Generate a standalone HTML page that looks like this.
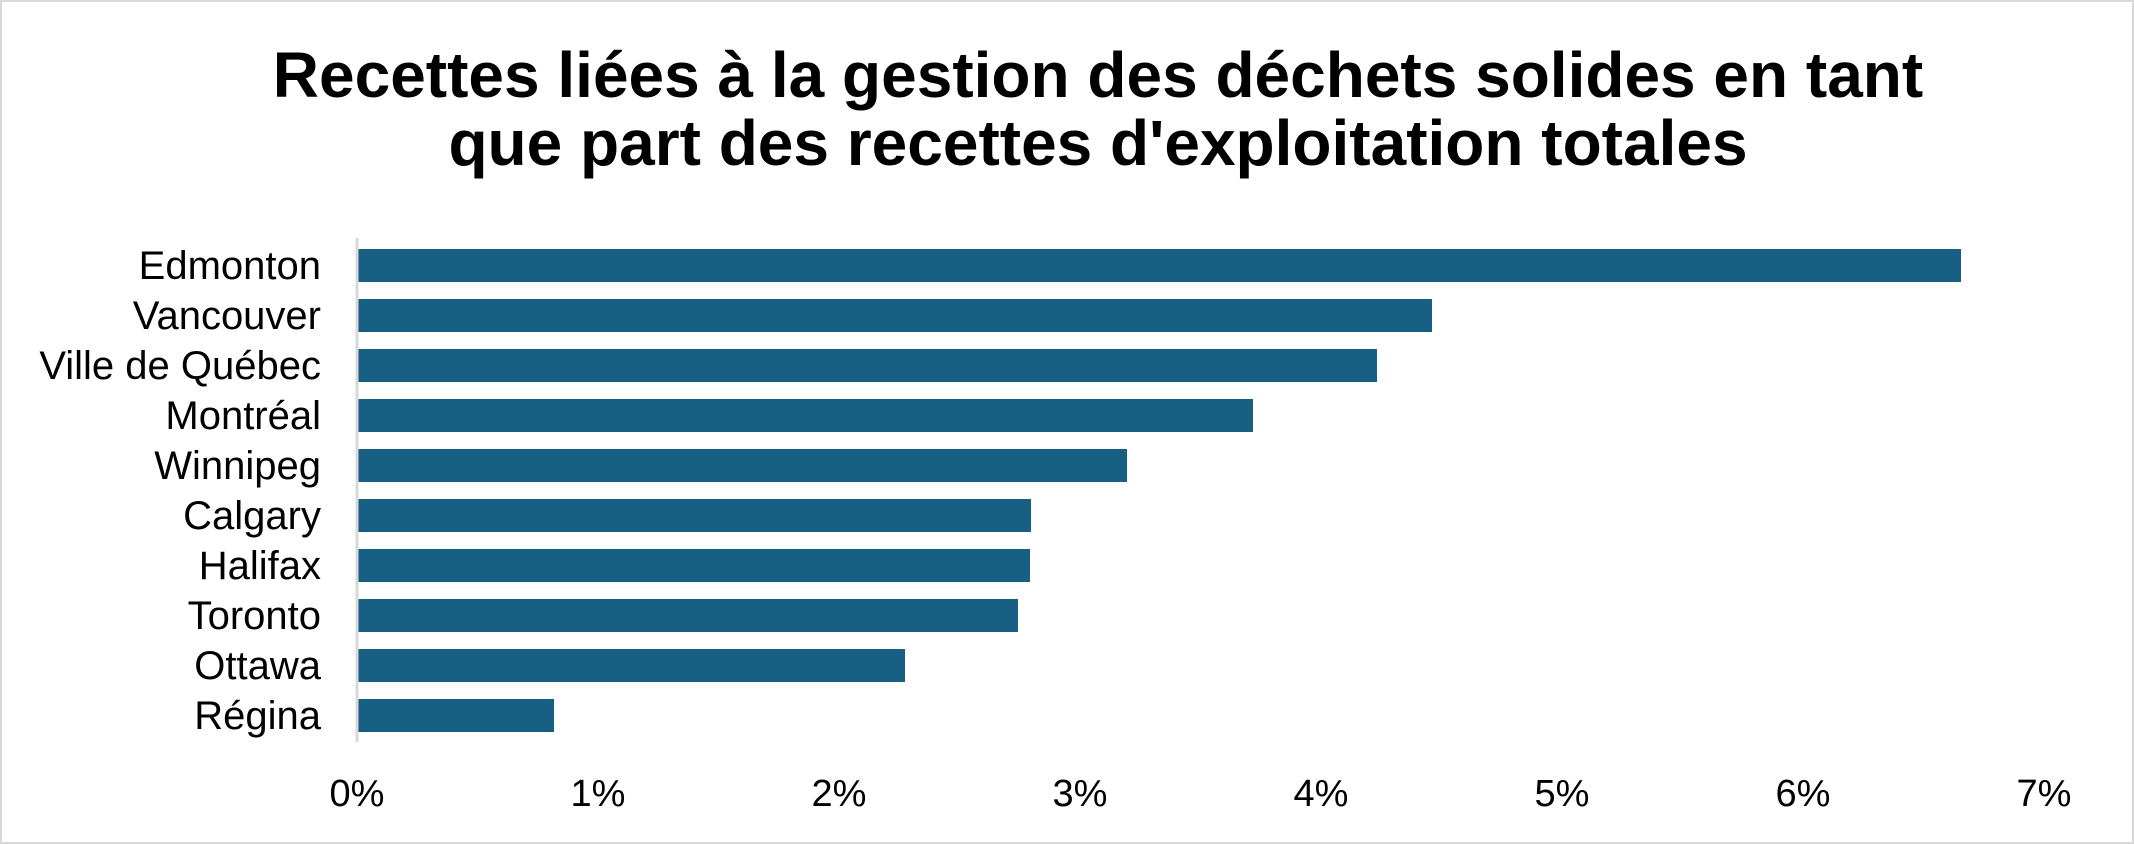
<!DOCTYPE html>
<html><head><meta charset="utf-8"><style>
html,body{margin:0;padding:0;background:#fff}
svg{display:block}
text{font-family:"Liberation Sans",Arial,sans-serif;fill:#000}
</style></head><body>
<svg width="2134" height="844" viewBox="0 0 2134 844">
<rect x="1" y="1" width="2132" height="842" fill="#fff" stroke="#d9d9d9" stroke-width="2"/>
<text x="1098" y="97" font-size="64" font-weight="bold" text-anchor="middle">Recettes liées à la gestion des déchets solides en tant</text>
<text x="1098" y="165" font-size="64" font-weight="bold" text-anchor="middle">que part des recettes d'exploitation totales</text>
<g fill="#176083">
<rect x="358" y="249" width="1603" height="33"/>
<rect x="358" y="299" width="1074" height="33"/>
<rect x="358" y="349" width="1019" height="33"/>
<rect x="358" y="399" width="895" height="33"/>
<rect x="358" y="449" width="769" height="33"/>
<rect x="358" y="499" width="673" height="33"/>
<rect x="358" y="549" width="672" height="33"/>
<rect x="358" y="599" width="660" height="33"/>
<rect x="358" y="649" width="547" height="33"/>
<rect x="358" y="699" width="196" height="33"/>
</g>
<line x1="357" y1="238" x2="357" y2="742" stroke="#d9d9d9" stroke-width="3"/>
<g font-size="40" text-anchor="end">
<text x="321" y="279">Edmonton</text>
<text x="321" y="329">Vancouver</text>
<text x="321" y="379">Ville de Québec</text>
<text x="321" y="429">Montréal</text>
<text x="321" y="479">Winnipeg</text>
<text x="321" y="529">Calgary</text>
<text x="321" y="579">Halifax</text>
<text x="321" y="629">Toronto</text>
<text x="321" y="679">Ottawa</text>
<text x="321" y="729">Régina</text>
</g>
<g font-size="38" text-anchor="middle">
<text x="357" y="806">0%</text>
<text x="598" y="806">1%</text>
<text x="839" y="806">2%</text>
<text x="1080" y="806">3%</text>
<text x="1321" y="806">4%</text>
<text x="1562" y="806">5%</text>
<text x="1803" y="806">6%</text>
<text x="2044" y="806">7%</text>
</g>
</svg>
</body></html>
